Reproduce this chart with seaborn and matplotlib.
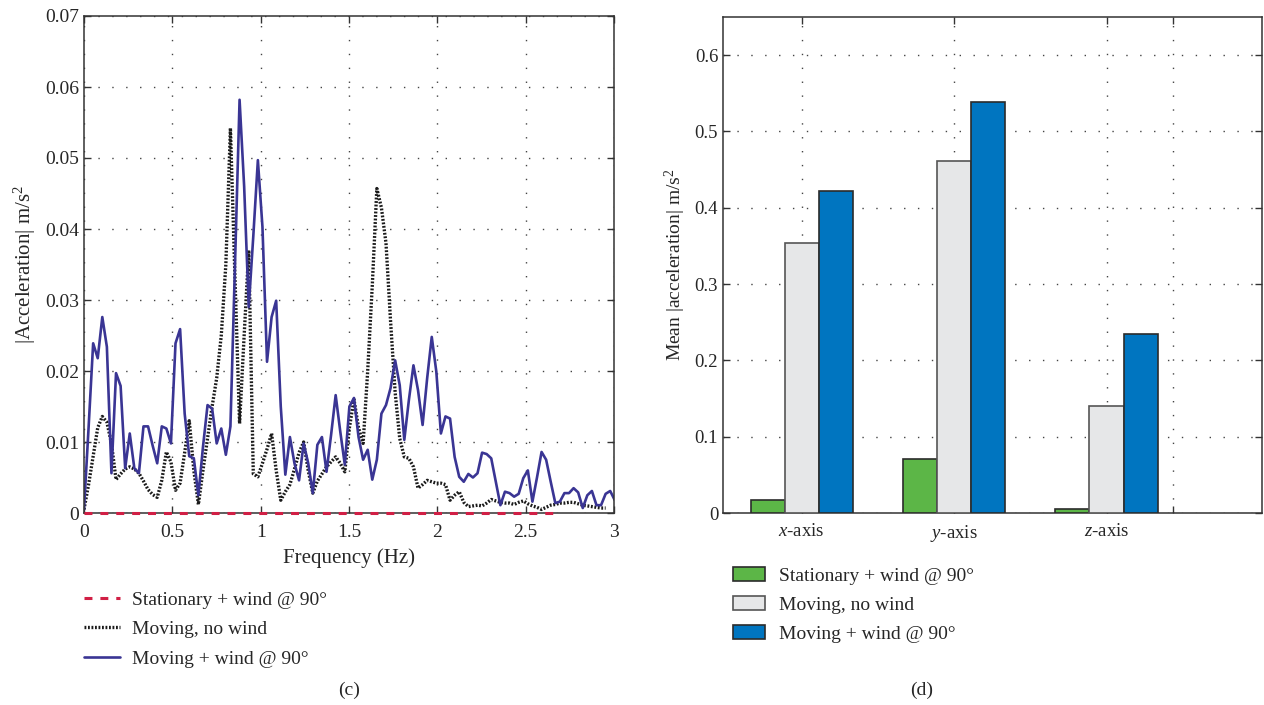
import numpy as np
import pandas as pd
import matplotlib
matplotlib.use("Agg")
import matplotlib.pyplot as plt
from matplotlib.patches import Patch
from matplotlib.lines import Line2D
import seaborn as sns

# --- data (c): spectrum ---
df_hz = 0.0259  # frequency resolution of the spectrum
moving_wind = [
    0.0005, 0.012, 0.0239, 0.0218, 0.0276, 0.0234, 0.0056, 0.0197, 0.0179, 0.0063,
    0.0112, 0.0063, 0.0056, 0.0122, 0.0122, 0.0095, 0.0070, 0.0122, 0.0119, 0.0098,
    0.0239, 0.0259, 0.0140, 0.0080, 0.0077, 0.0025, 0.0093, 0.0152, 0.0147, 0.0098,
    0.0119, 0.0082, 0.0122, 0.0350, 0.0582, 0.0460, 0.0290, 0.0390, 0.0497, 0.0403,
    0.0213, 0.0276, 0.0299, 0.0150, 0.0054, 0.0107, 0.0070, 0.0046, 0.0098, 0.0070,
    0.0028, 0.0096, 0.0107, 0.0058, 0.0110, 0.0166, 0.0115, 0.0068, 0.0150, 0.0162,
    0.0107, 0.0075, 0.0089, 0.0047, 0.0075, 0.0140, 0.0152, 0.0176, 0.0215, 0.0180,
    0.0103, 0.0159, 0.0208, 0.0173, 0.0124, 0.0190, 0.0248, 0.0199, 0.0112, 0.0136,
    0.0133, 0.0079, 0.0051, 0.0044, 0.0055, 0.0050, 0.0056, 0.0085, 0.0083, 0.0077,
    0.0044, 0.0011, 0.0030, 0.0028, 0.0023, 0.0027, 0.0049, 0.0060, 0.0016, 0.0050,
    0.0086, 0.0075, 0.0044, 0.0014, 0.0016, 0.0028, 0.0028, 0.0035, 0.0029, 0.0007,
    0.0025, 0.0031, 0.0011, 0.0011, 0.0027, 0.0031, 0.0018,
]
moving_no_wind = [
    0.0005, 0.0040, 0.0080, 0.0120, 0.0136, 0.0128, 0.0098, 0.0047, 0.0055, 0.0062,
    0.0065, 0.0062, 0.0056, 0.0045, 0.0033, 0.0026, 0.0022, 0.0046, 0.0086, 0.0072,
    0.0032, 0.0042, 0.0085, 0.0130, 0.0060, 0.0012, 0.0060, 0.0105, 0.0150, 0.0190,
    0.0250, 0.0350, 0.0542, 0.0330, 0.0126, 0.0250, 0.0370, 0.0055, 0.0051, 0.0070,
    0.0090, 0.0112, 0.0060, 0.0018, 0.0030, 0.0040, 0.0062, 0.0085, 0.0100, 0.0060,
    0.0028, 0.0045, 0.0055, 0.0065, 0.0072, 0.0079, 0.0070, 0.0058, 0.0120, 0.0160,
    0.0120, 0.0098, 0.0200, 0.0320, 0.0457, 0.0430, 0.0380, 0.0270, 0.0170, 0.0105,
    0.0079, 0.0077, 0.0065, 0.0035, 0.0040, 0.0046, 0.0044, 0.0042, 0.0042, 0.0040,
    0.0018, 0.0025, 0.0030, 0.0015, 0.0009, 0.0010, 0.0011, 0.0010, 0.0014, 0.0019,
    0.0017, 0.0015, 0.0014, 0.0014, 0.0012, 0.0015, 0.0017, 0.0013, 0.0010, 0.0008,
    0.0005, 0.0008, 0.0011, 0.0012, 0.0014, 0.0014, 0.0015, 0.0015, 0.0013, 0.0011,
    0.0010, 0.0009, 0.0008, 0.0007, 0.0007,
]
stationary_wind = [0.0] * 105

# --- data (d): mean acceleration per axis ---
axes_names = ["$x$-axis", "$y$-axis", "$z$-axis"]
conditions = ["Stationary + wind @ 90°", "Moving, no wind", "Moving + wind @ 90°"]
mean_stationary = [0.017, 0.071, 0.005]
mean_moving = [0.354, 0.461, 0.140]
mean_moving_wind = [0.422, 0.538, 0.235]

bar_colors = ["#5cb647", "#e6e7e8", "#0075c0"]
line_blue = "#3a3594"
line_red = "#d11f45"
dots = (0, (0.55, 0.5))
dashes = (0, (2.6, 2.6))

sns.set_style("ticks")
plt.rcParams["font.family"] = ["Liberation Serif", "DejaVu Serif"]
plt.rcParams["mathtext.fontset"] = "custom"
plt.rcParams["mathtext.rm"] = "Liberation Serif"
plt.rcParams["mathtext.it"] = "Liberation Serif:italic"
plt.rcParams["font.size"] = 14
plt.rcParams["axes.edgecolor"] = "#333333"
plt.rcParams["axes.linewidth"] = 1.1

fig = plt.figure(figsize=(12.64, 7.05), dpi=100)
ax1 = fig.add_axes([84 / 1264, 1 - 513 / 705, 530 / 1264, 497 / 705])
ax2 = fig.add_axes([723 / 1264, 1 - 513 / 705, 539 / 1264, 496 / 705])

grid_kw = dict(color="#444444", linestyle=(0, (1, 9)), linewidth=1.0)

# ---- (c) line chart ----
def freqs(vals):
    return df_hz * np.arange(len(vals))

sns.lineplot(x=freqs(moving_no_wind), y=moving_no_wind, ax=ax1, color="#1a1a1a",
             linewidth=2.4, linestyle=dots, estimator=None, sort=False)
sns.lineplot(x=freqs(moving_wind), y=moving_wind, ax=ax1, color=line_blue,
             linewidth=1.9, estimator=None, sort=False)
sns.lineplot(x=freqs(stationary_wind), y=stationary_wind, ax=ax1, color=line_red,
             linewidth=2.2, linestyle=dashes, estimator=None, sort=False,
             clip_on=False, zorder=5)
ax1.set_xlim(0, 3)
ax1.set_ylim(0, 0.07)
ax1.set_xticks([0, 0.5, 1, 1.5, 2, 2.5, 3])
ax1.set_xticklabels(["0", "0.5", "1", "1.5", "2", "2.5", "3"])
ax1.set_yticks(np.arange(0, 0.071, 0.01))
ax1.set_yticklabels(["0", "0.01", "0.02", "0.03", "0.04", "0.05", "0.06", "0.07"])
ax1.grid(True, **grid_kw)
ax1.set_axisbelow(True)
ax1.set_xlabel("Frequency (Hz)", labelpad=5, fontsize=15)
ax1.set_ylabel("|Acceleration| m/s$^2$", labelpad=5, fontsize=15)
ax1.tick_params(direction="in", top=True, right=True, length=5, width=1, labelsize=14,
                color="#333333")
ax1.tick_params(axis="x", pad=8)

# ---- (d) bar chart ----
bars = pd.DataFrame({
    "axis": axes_names * 3,
    "cond": [conditions[0]] * 3 + [conditions[1]] * 3 + [conditions[2]] * 3,
    "value": mean_stationary + mean_moving + mean_moving_wind,
})
sns.barplot(data=bars, x="axis", y="value", hue="cond", hue_order=conditions,
            palette=bar_colors, width=0.67, edgecolor="#2b2b2b", linewidth=1.2,
            saturation=1, legend=False, ax=ax2, zorder=3)
for p in ax2.patches:
    if p.get_facecolor()[0] > 0.8:
        p.set_edgecolor("#555555")
ax2.set_xlim(-0.516, 3.02)
ax2.set_ylim(0, 0.65)
ax2.set_xticks([0, 1, 2, 2.433])
ax2.set_xticklabels(axes_names + [""])
ax2.set_yticks(np.arange(0, 0.61, 0.1))
ax2.set_yticklabels(["0", "0.1", "0.2", "0.3", "0.4", "0.5", "0.6"])
ax2.grid(True, **grid_kw)
ax2.set_axisbelow(True)
ax2.set_xlabel("")
ax2.set_ylabel("Mean |acceleration| m/s$^2$", labelpad=5, fontsize=14)
ax2.tick_params(direction="in", top=True, right=True, length=5, width=1, labelsize=13.5,
                color="#333333")
ax2.tick_params(axis="x", pad=7)

# ---- legends ----
line_handles = [
    Line2D([], [], color=line_red, linewidth=2.2, linestyle=dashes),
    Line2D([], [], color="#1a1a1a", linewidth=2.4, linestyle=dots),
    Line2D([], [], color=line_blue, linewidth=1.9),
]
fig.legend(line_handles, conditions, loc="upper left", bbox_to_anchor=(84 / 1264, 1 - 591 / 705),
           frameon=False, fontsize=14, handlelength=1.85, handletextpad=0.62,
           labelspacing=0.62, borderpad=0, borderaxespad=0)
bar_handles = [Patch(facecolor=c, edgecolor="#2b2b2b" if i != 1 else "#555555", linewidth=1.2)
               for i, c in enumerate(bar_colors)]
fig.legend(bar_handles, conditions, loc="upper left", bbox_to_anchor=(733 / 1264, 1 - 567 / 705),
           frameon=False, fontsize=14, handlelength=1.65, handleheight=0.72,
           handletextpad=0.7, labelspacing=0.58, borderpad=0, borderaxespad=0)

fig.text(349 / 1264, 1 - 690 / 705, "(c)", ha="center", va="center", fontsize=14)
fig.text(922 / 1264, 1 - 690 / 705, "(d)", ha="center", va="center", fontsize=14)

fig.savefig("out.png", dpi=100)
